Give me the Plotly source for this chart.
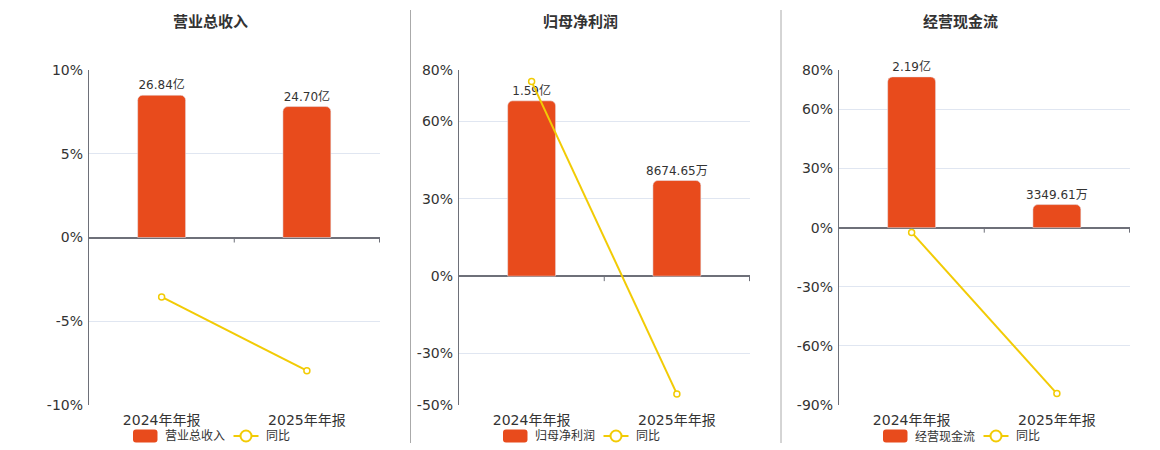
import plotly.graph_objects as go

# ---- data ----
periods = ["2024年年报", "2025年年报"]

titles = ["营业总收入", "归母净利润", "经营现金流"]

# bar values in 亿 (labels as shown on the chart)
revenue = [26.84, 24.70]
revenue_labels = ["26.84亿", "24.70亿"]
net_profit = [1.59, 0.867465]
net_profit_labels = ["1.59亿", "8674.65万"]
cash_flow = [2.19, 0.334961]
cash_flow_labels = ["2.19亿", "3349.61万"]

# year-on-year growth, %
revenue_yoy = [-3.55, -7.95]
net_profit_yoy = [75.5, -45.7]
cash_flow_yoy = [-2.4, -84.2]

# left axis ticks, %
ticks_1 = [-10, -5, 0, 5, 10]
ticks_2 = [-50, -30, 0, 30, 60, 80]
ticks_3 = [-90, -60, -30, 0, 30, 60, 80]

BAR_COLOR = "#E84B1C"
LINE_COLOR = "#F2CB05"
AXIS_COLOR = "#6E7079"
FONT = "DejaVu Sans, Noto Sans CJK SC, sans-serif"
OFF = 8  # page body margin of the html file
W, H = 1160 - OFF, 450 - OFF
TOP, BOTTOM = 70 - OFF, 45

panels = [
    dict(title=titles[0], bars=revenue, labels=revenue_labels, yoy=revenue_yoy,
         ticks=ticks_1, y2_top=31.6, x0=89, x1=380, tx=210, lx=133),
    dict(title=titles[1], bars=net_profit, labels=net_profit_labels, yoy=net_profit_yoy,
         ticks=ticks_2, y2_top=1.87, x0=459, x1=750, tx=580, lx=503),
    dict(title=titles[2], bars=cash_flow, labels=cash_flow_labels, yoy=cash_flow_yoy,
         ticks=ticks_3, y2_top=2.29, x0=839, x1=1130, tx=960, lx=883),
]

fig = go.Figure()
plot_h = H - TOP - BOTTOM


def px_x(px):
    return (px - OFF) / W


def py(px):
    # screen row -> paper y
    return (H - BOTTOM - (px - OFF)) / plot_h


def round_rect(x0, y0, x1, y1, r):
    # rounded rectangle path in paper units, pixel inputs
    X = lambda v: f"{px_x(v):.5f}"
    Y = lambda v: f"{py(v):.5f}"
    return (f"M{X(x0 + r)},{Y(y0)} L{X(x1 - r)},{Y(y0)} Q{X(x1)},{Y(y0)} {X(x1)},{Y(y0 + r)} "
            f"L{X(x1)},{Y(y1 - r)} Q{X(x1)},{Y(y1)} {X(x1 - r)},{Y(y1)} "
            f"L{X(x0 + r)},{Y(y1)} Q{X(x0)},{Y(y1)} {X(x0)},{Y(y1 - r)} "
            f"L{X(x0)},{Y(y0 + r)} Q{X(x0)},{Y(y0)} {X(x0 + r)},{Y(y0)} Z")


layout = {}
annotations = []
shapes = []
for i, p in enumerate(panels):
    n = i + 1
    xa = "x" if n == 1 else f"x{n}"
    yb = "y" if n == 1 else f"y{2 * n - 1}"   # bars (base axis, hidden)
    yl = f"y{2 * n}"                          # 同比 line (overlay, shown on left)

    fig.add_trace(go.Bar(
        x=periods, y=p["bars"], text=p["labels"], textposition="outside",
        textfont=dict(size=12, color="#333"), cliponaxis=False,
        marker=dict(color=BAR_COLOR, cornerradius=5), width=0.33,
        name=p["title"], xaxis=xa, yaxis=yb, showlegend=False,
    ))
    fig.add_trace(go.Scatter(
        x=periods, y=p["yoy"], mode="lines+markers", name="同比",
        line=dict(color=LINE_COLOR, width=2),
        marker=dict(symbol="circle", size=6, color="white",
                    line=dict(color=LINE_COLOR, width=1.5)),
        cliponaxis=False, xaxis=xa, yaxis=yl, showlegend=False,
    ))

    lo, hi = p["ticks"][0], p["ticks"][-1]
    layout["xaxis" if n == 1 else f"xaxis{n}"] = dict(
        domain=[px_x(p["x0"]), px_x(p["x1"])], anchor=yb, showgrid=False,
        showline=False, ticks="", tickfont=dict(size=14, color="#333"),
        ticklabelstandoff=5,
    )
    layout["yaxis" if n == 1 else f"yaxis{2 * n - 1}"] = dict(
        domain=[0, 1], anchor=xa, range=[p["y2_top"] * lo / hi, p["y2_top"]],
        showticklabels=False, showgrid=True, gridcolor="#E0E6F1",
        tickvals=[p["y2_top"] * t / hi for t in p["ticks"]],
        showline=True, linecolor=AXIS_COLOR, linewidth=1,
        zeroline=True, zerolinecolor=AXIS_COLOR, zerolinewidth=2, ticks="",
    )
    layout[f"yaxis{2 * n}"] = dict(
        overlaying=yb, anchor=xa, side="left", range=[lo, hi],
        tickvals=p["ticks"], ticktext=[f"{t}%" for t in p["ticks"]],
        tickfont=dict(size=14, color="#333"), ticklabelstandoff=5,
        showgrid=False, zeroline=False, showline=False, ticks="",
    )

    # small ticks on the zero line between categories
    zero = -lo / (hi - lo)
    for cx in [0.5, 1.5]:
        shapes.append(dict(type="line", xref=xa, yref="paper", x0=cx, x1=cx,
                           y0=zero, y1=zero - 5 / plot_h,
                           line=dict(color=AXIS_COLOR, width=1)))

    # title
    annotations.append(dict(
        text=f"<b>{p['title']}</b>", x=px_x(p["tx"]), y=py(22), xref="paper",
        yref="paper", showarrow=False, font=dict(size=15, color="#333"),
        xanchor="center", yanchor="middle",
    ))

    # legend keys
    lx = p["lx"]
    shapes.append(dict(type="path", xref="paper", yref="paper",
                       path=round_rect(lx, 429.5, lx + 24.5, 442.5, 3),
                       fillcolor=BAR_COLOR, line=dict(width=0)))
    shapes.append(dict(type="line", xref="paper", yref="paper",
                       x0=px_x(lx + 100.5), x1=px_x(lx + 125.5), y0=py(436), y1=py(436),
                       line=dict(color=LINE_COLOR, width=2)))
    shapes.append(dict(type="circle", xref="paper", yref="paper",
                       x0=px_x(lx + 107.5), x1=px_x(lx + 118.5), y0=py(430.5), y1=py(441.5),
                       fillcolor="white", line=dict(color=LINE_COLOR, width=2)))
    annotations.append(dict(
        text=p["title"], x=px_x(lx + 30), y=py(436), xref="paper", yref="paper",
        showarrow=False, font=dict(size=12, color="#333"), xanchor="left",
        yanchor="middle",
    ))
    annotations.append(dict(
        text="同比", x=px_x(lx + 130.5), y=py(436), xref="paper", yref="paper",
        showarrow=False, font=dict(size=12, color="#333"), xanchor="left",
        yanchor="middle",
    ))

for sx in [410.5, 781]:
    shapes.append(dict(type="line", xref="paper", yref="paper",
                       x0=px_x(sx), x1=px_x(sx), y0=py(10), y1=py(443),
                       line=dict(color="#AAAAAA", width=1)))

fig.update_layout(
    width=W, height=H,
    margin=dict(l=0, r=0, t=TOP, b=BOTTOM),
    paper_bgcolor="white", plot_bgcolor="white",
    font=dict(family=FONT, color="#333"),
    uniformtext=dict(minsize=12, mode="show"),
    annotations=annotations, shapes=shapes,
    **layout,
)

fig.write_html("out.html")
